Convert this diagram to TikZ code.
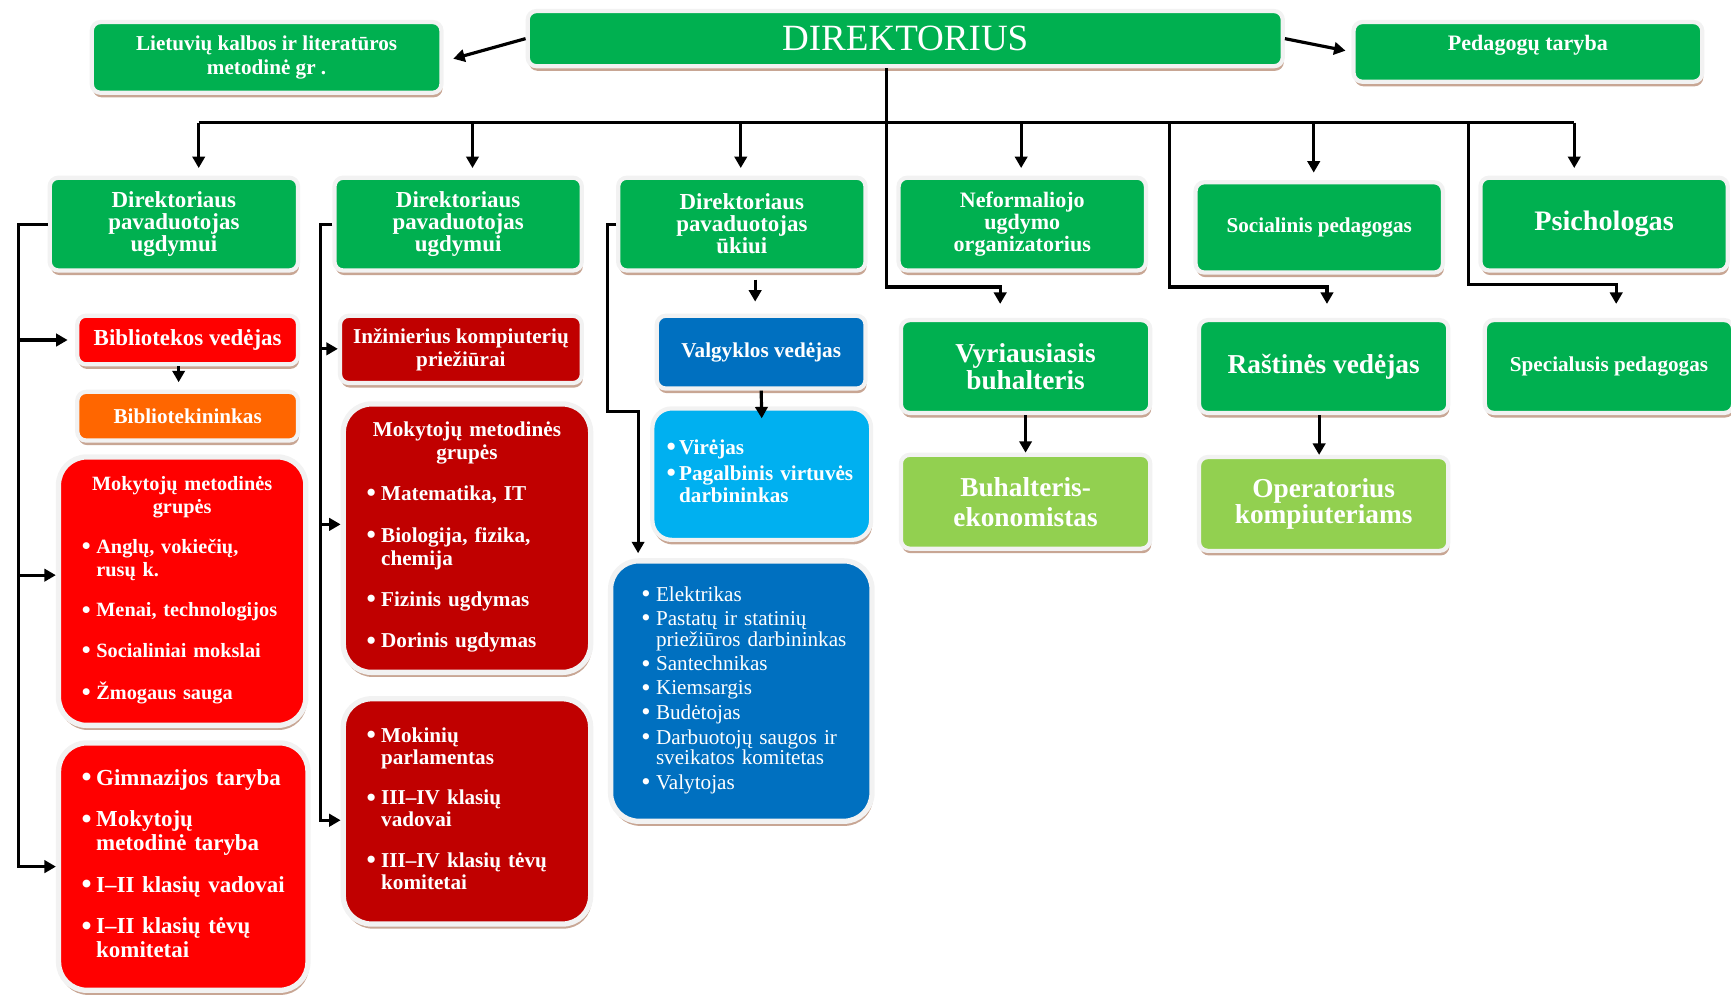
\documentclass[tikz,border=0pt]{standalone}
\usepackage{fontspec}
\usepackage{graphicx}
\setmainfont{Liberation Serif}
\usetikzlibrary{arrows.meta,shadows}

\definecolor{grn}{HTML}{00B050}
\definecolor{lgrn}{HTML}{92D050}
\definecolor{rd}{HTML}{FF0000}
\definecolor{drd}{HTML}{C00000}
\definecolor{orng}{HTML}{FF6600}
\definecolor{blu}{HTML}{0070C0}
\definecolor{lblu}{HTML}{00B0F0}
\definecolor{ring}{HTML}{F2F2F2}
\definecolor{shade}{RGB}{200,166,148}

\newlength{\bulw}
\setlength{\bulw}{0.29cm}
\newcommand{\fsz}[2]{\fontsize{#1}{#2}\selectfont\bfseries}
\newcommand{\orgitem}[1]{\noindent\makebox[\bulw][l]{\raisebox{-0.06em}{\scalebox{1.25}{\textbullet}}}\begin{tabular}[t]{@{}l@{}}#1\end{tabular}\par}

\tikzset{
  box/.style={draw=ring, line width=2.4pt, rounded corners=5pt, text=white,
    font=\bfseries, align=center, inner sep=2pt,
    drop shadow={shadow xshift=0.6pt, shadow yshift=-2.6pt, fill=shade, opacity=1}},
  big/.style={box, rounded corners=16pt, line width=3pt},
  lst/.style={align=left, execute at begin node={\setlength{\parskip}{#1}\lineskip=0pt}},
  conn/.style={line width=1.8pt},
  arr/.style={conn, -{Triangle[width=7pt,length=6.5pt]}},
}

\begin{document}
\begin{tikzpicture}[x=0.022cm, y=-0.022cm]
  \useasboundingbox (0,0) rectangle (1568,901);

  % top row
  \node[box, fill=grn, minimum width=15.05cm, minimum height=1.10cm,
    font=\fontsize{21}{24}\selectfont] (dir) at (820,35) {DIREKTORIUS};
  \node[box, fill=grn, minimum width=6.97cm, minimum height=1.41cm,
    font=\fsz{12}{14}] (lit) at (241.5,52) {Lietuvių kalbos ir literatūros\\metodinė gr .};
  \node[box, fill=grn, minimum width=6.95cm, minimum height=1.19cm,
    font=\fsz{12.5}{14}] (ped) at (1384,47) {\raisebox{0.36cm}{Pedagogų taryba}};

  % second row
  \node[box, fill=grn, minimum width=4.95cm, minimum height=1.85cm,
    font=\fsz{13}{12.5}] (d1) at (157.5,203) {Direktoriaus\\pavaduotojas\\ugdymui};
  \node[box, fill=grn, minimum width=4.93cm, minimum height=1.85cm,
    font=\fsz{13}{12.5}] (d2) at (415,203) {Direktoriaus\\pavaduotojas\\ugdymui};
  \node[box, fill=grn, minimum width=4.93cm, minimum height=1.85cm,
    font=\fsz{13}{12.5}] (d3) at (672,203) {Direktoriaus\\pavaduotojas\\ūkiui};
  \node[box, fill=grn, minimum width=4.93cm, minimum height=1.85cm,
    font=\fsz{12.5}{12.5}] (nef) at (926,203) {Neformaliojo\\ugdymo\\organizatorius};
  \node[box, fill=grn, minimum width=4.93cm, minimum height=1.80cm,
    font=\fsz{12}{14}] (soc) at (1195,206) {Socialinis pedagogas};
  \node[box, fill=grn, minimum width=4.93cm, minimum height=1.85cm,
    font=\fsz{16}{18}] (psi) at (1453,203) {Psichologas};

  % left column
  \node[box, fill=rd, minimum width=4.40cm, minimum height=0.97cm,
    font=\fsz{13}{15}] (bib) at (170,308) {Bibliotekos vedėjas};
  \node[box, fill=orng, minimum width=4.40cm, minimum height=0.97cm,
    font=\fsz{12}{14}] (bibt) at (170,377) {Bibliotekininkas};
  \node[big, fill=rd, minimum width=4.93cm, minimum height=5.35cm, text width=4.0cm,
    lst=0.35cm, font=\fsz{11.5}{13}] (mok1) at (165,535.5) {%
    {\centering Mokytojų metodinės\\grupės\par}
    \orgitem{Anglų, vokiečių,\\rusų k.}
    \orgitem{Menai, technologijos}
    \orgitem{Socialiniai mokslai}
    \orgitem{Žmogaus sauga}};
  \node[big, fill=rd, minimum width=4.97cm, minimum height=4.93cm, text width=4.05cm,
    lst=0.35cm, font=\fsz{13}{13.6}] (gim) at (166,785) {%
    \orgitem{Gimnazijos taryba}
    \orgitem{Mokytojų\\metodinė taryba}
    \orgitem{I–II klasių vadovai}
    \orgitem{I–II klasių tėvų\\komitetai}};

  % second column
  \node[box, fill=drd, minimum width=4.82cm, minimum height=1.34cm,
    font=\fsz{12}{13}] (inz) at (417.5,316.5) {Inžinierius kompiuterių\\priežiūrai};
  \node[big, fill=drd, minimum width=4.93cm, minimum height=5.35cm, text width=4.0cm,
    lst=0.37cm, font=\fsz{12}{13}] (mok2) at (423,487.5) {%
    {\centering Mokytojų metodinės\\grupės\par}
    \orgitem{Matematika, IT}
    \orgitem{Biologija, fizika,\\chemija}
    \orgitem{Fizinis ugdymas}
    \orgitem{Dorinis ugdymas}};
  \node[big, fill=drd, minimum width=4.93cm, minimum height=4.49cm, text width=4.0cm,
    lst=0.37cm, font=\fsz{12}{12.5}] (mokin) at (423,735) {%
    \orgitem{Mokinių\\parlamentas}
    \orgitem{III–IV klasių\\vadovai}
    \orgitem{III–IV klasių tėvų\\komitetai}};

  % third column
  \node[box, fill=blu, minimum width=4.16cm, minimum height=1.45cm,
    font=\fsz{12}{14}] (valg) at (689.5,319) {Valgyklos vedėjas};
  \node[box, fill=lblu, rounded corners=11pt, minimum width=4.36cm, minimum height=2.62cm,
    text width=3.79cm, lst=0.07cm, font=\fsz{12}{12.6}] (vir) at (690,429.5) {%
    \setlength{\bulw}{0.25cm}%
    \orgitem{Virėjas}
    \orgitem{Pagalbinis virtuvės\\darbininkas}};
  \node[big, fill=blu, minimum width=5.21cm, minimum height=5.19cm, text width=3.98cm,
    lst=0.08cm, font=\fontsize{12}{11.3}\selectfont] (elek) at (671.5,626) {%
    \orgitem{Elektrikas}
    \orgitem{Pastatų ir statinių\\priežiūros darbininkas}
    \orgitem{Santechnikas}
    \orgitem{Kiemsargis}
    \orgitem{Budėtojas}
    \orgitem{Darbuotojų saugos ir\\sveikatos komitetas}
    \orgitem{Valytojas}};

  % right columns
  \node[box, fill=grn, minimum width=4.97cm, minimum height=1.85cm,
    font=\fsz{15.5}{14}] (vyr) at (929,332) {Vyriausiasis\\buhalteris};
  \node[box, fill=lgrn, minimum width=4.97cm, minimum height=1.87cm,
    font=\fsz{15.5}{17}] (buh) at (929,454.5) {Buhalteris-\\ekonomistas};
  \node[box, fill=grn, minimum width=4.97cm, minimum height=1.85cm,
    font=\fsz{15.5}{17}] (ras) at (1199,332) {Raštinės vedėjas};
  \node[box, fill=lgrn, minimum width=4.97cm, minimum height=1.87cm,
    font=\fsz{15.5}{14.5}] (opr) at (1199,456.5) {Operatorius\\kompiuteriams};
  \node[box, fill=grn, minimum width=4.95cm, minimum height=1.85cm,
    font=\fsz{12}{14}] (spec) at (1457.5,332) {Specialusis pedagogas};

  % connectors from the director
  \coordinate (b1) at (180,111);  \coordinate (b2) at (428,111);
  \coordinate (b3) at (671,111);  \coordinate (b4) at (925,111);
  \coordinate (b5) at (1190,111); \coordinate (b6) at (1426,111);
  \coordinate (t1) at (803,260);  \coordinate (k1) at (906,260);
  \coordinate (t2) at (1059,260); \coordinate (k2) at (1202,260);
  \coordinate (t3) at (1330,258); \coordinate (k3) at (1464,258);
  \draw[arr, shorten >=0.2cm] (dir.west) -- ([yshift=-0.08cm]lit.east);
  \draw[arr, shorten >=0.12cm] (dir.east) -- (ped.west);
  \draw[conn] (b1) -- (b6);
  \foreach \b/\n in {b1/d1, b2/d2, b3/d3, b4/nef, b5/soc, b6/psi}
    \draw[arr, shorten >=0.15cm] (\b) -- (\b |- \n.north);
  \draw[arr, shorten >=0.28cm] (t1 |- dir.south) -- (t1) -- (k1) -- (k1 |- vyr.north);
  \draw[arr, shorten >=0.28cm] (t2 |- b1) -- (t2) -- (k2) -- (k2 |- ras.north);
  \draw[arr, shorten >=0.28cm] (t3 |- b1) -- (t3) -- (k3) -- (k3 |- spec.north);

  % left bracket
  \coordinate (l1) at (17,308); \coordinate (l2) at (17,521); \coordinate (l3) at (17,785);
  \draw[arr] (d1.west) -| (l3) -- (l3 -| gim.west);
  \draw[arr, shorten >=0.15cm] (l1) -- (l1 -| bib.west);
  \draw[arr] (l2) -- (l2 -| mok1.west);
  \draw[arr, shorten >=0.15cm] ([xshift=-0.18cm]bib.south) -- ([xshift=-0.18cm]bibt.north);

  % second bracket
  \coordinate (m1) at (290,316); \coordinate (m2) at (290,475); \coordinate (m3) at (290,743);
  \draw[arr] (d2.west) -| (m3) -- (m3 -| mokin.west);
  \draw[arr] (m1) -- (m1 -| inz.west);
  \draw[arr] (m2) -- (m2 -| mok2.west);

  % third bracket
  \coordinate (u1) at (550,373); \coordinate (u2) at (578,373);
  \draw[arr, shorten >=0.1cm] (d3.west) -| (u1) -- (u2) -- (u2 |- elek.north);
  \draw[arr] ([xshift=-0.12cm,yshift=0.68cm]valg.north) -- ([xshift=-0.12cm,yshift=0.24cm]valg.north);
  \draw[arr] (valg.south) -- ([yshift=-0.24cm]vir.north);

  % accounting and office
  \draw[arr] (vyr.south) -- (buh.north);
  \draw[arr] ([xshift=-0.09cm]ras.south) -- ([xshift=-0.09cm]opr.north);
\end{tikzpicture}
\end{document}
